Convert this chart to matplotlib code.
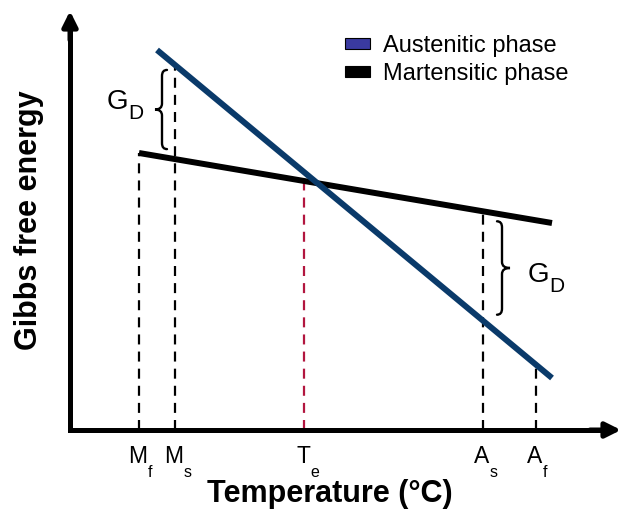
import numpy as np
import matplotlib.pyplot as plt
from matplotlib.patches import Patch, PathPatch
from matplotlib.path import Path

plt.rcParams['font.family'] = ['Liberation Sans', 'DejaVu Sans']

# free energy lines (temperature, G) in arbitrary units
temp_aus = [87, 482]
g_aus = [380, 52]
temp_mar = [69, 482]
g_mar = [277, 207]

# transformation temperatures
trans_letter = ['M', 'M', 'T', 'A', 'A']
trans_sub = ['f', 's', 'e', 's', 'f']
trans_temp = [69, 105, 234, 413, 466]
trans_on = ['mar', 'aus', 'mar', 'mar', 'aus']
trans_color = ['black', 'black', '#b2163f', 'black', 'black']

blue = '#0a3a6a'

fig = plt.figure(figsize=(6.22, 5.15), dpi=100)
ax = fig.add_axes([0, 0, 1, 1])
ax.set_xlim(-70, 552)
ax.set_ylim(-85, 430)
ax.axis('off')


def g_at(phase, t):
    # linear G(T) for each phase, extended past the drawn segment
    xs, ys = (temp_aus, g_aus) if phase == 'aus' else (temp_mar, g_mar)
    slope = (ys[1] - ys[0]) / (xs[1] - xs[0])
    return ys[0] + slope * (t - xs[0])


def brace(x, y0, y1, w, side):
    # curly brace, side=+1 gives "{", side=-1 gives "}"
    e = 5 * side
    r = 6
    mid = (y0 + y1) / 2
    tip = x - w * side
    verts = [(x + e, y1), (x, y1), (x, y1 - r),
             (x, mid + r), (x, mid), (tip, mid),
             (x, mid), (x, mid - r),
             (x, y0 + r), (x, y0), (x + e, y0)]
    codes = [Path.MOVETO, Path.CURVE3, Path.CURVE3,
             Path.LINETO, Path.CURVE3, Path.CURVE3,
             Path.CURVE3, Path.CURVE3,
             Path.LINETO, Path.CURVE3, Path.CURVE3]
    ax.add_patch(PathPatch(Path(verts, codes), fill=False, lw=1.7, color='black', capstyle='round'))


# dashed markers for transformation temperatures
for t, phase, c in zip(trans_temp, trans_on, trans_color):
    ax.plot([t, t], [0, g_at(phase, t)], color=c, lw=1.6, dashes=[4.5, 3.2], zorder=2)

ax.plot(temp_mar, g_mar, color='black', lw=4.3, solid_capstyle='butt', zorder=3)
ax.plot(temp_aus, g_aus, color=blue, lw=4.3, solid_capstyle='butt', zorder=4)

# axes with arrow heads
ax.plot([0, 0, 540], [405, 0, 0], color='black', lw=3.6, solid_joinstyle='miter', zorder=5)
ax.annotate('', xy=(0, 419), xytext=(0, 390),
            arrowprops=dict(arrowstyle='-|>,head_length=0.9,head_width=0.45', color='black', lw=3.6,
                            shrinkA=0, shrinkB=0), zorder=5)
ax.annotate('', xy=(551, 0), xytext=(520, 0),
            arrowprops=dict(arrowstyle='-|>,head_length=0.9,head_width=0.45', color='black', lw=3.6,
                            shrinkA=0, shrinkB=0), zorder=5)

# tick labels with subscripts
for letter, sub, t in zip(trans_letter, trans_sub, trans_temp):
    main = ax.text(t - 1, -33, letter, fontsize=16.5, ha='center', va='baseline')
    ax.annotate(sub, xy=(1, 0), xycoords=main, xytext=(0, -3), textcoords='offset points',
                fontsize=11.5, ha='left', va='center')

# G_D braces
ms, a_s = trans_temp[1], trans_temp[3]
brace(ms - 13, g_at('mar', ms) + 10, g_at('aus', ms) - 5, 7, 1)
brace(a_s + 19, g_at('aus', a_s) + 6, g_at('mar', a_s) - 10, 8, -1)
for x, y in [(37, 328), (458, 155)]:
    g = ax.text(x, y, 'G', fontsize=20, ha='left', va='center')
    ax.annotate('D', xy=(1, 0), xycoords=g, xytext=(0, 1), textcoords='offset points',
                fontsize=15, ha='left', va='center')

ax.text(260, -72, 'Temperature (°C)', fontsize=22, fontweight='bold', ha='center', va='baseline')
ax.text(-41, 210, 'Gibbs free energy', fontsize=22, fontweight='bold', rotation=90,
        ha='center', va='center')

handles = [Patch(facecolor='#3a3aa0', edgecolor='black', lw=0.8),
           Patch(facecolor='black', edgecolor='black', lw=0.8)]
ax.legend(handles, ['Austenitic phase', 'Martensitic phase'], loc='upper left',
          bbox_to_anchor=(0.555, 0.932), frameon=False, fontsize=17,
          handlelength=1.05, handleheight=0.35, handletextpad=0.55, labelspacing=0.25,
          borderpad=0, borderaxespad=0)

fig.savefig('out.png', dpi=100)
